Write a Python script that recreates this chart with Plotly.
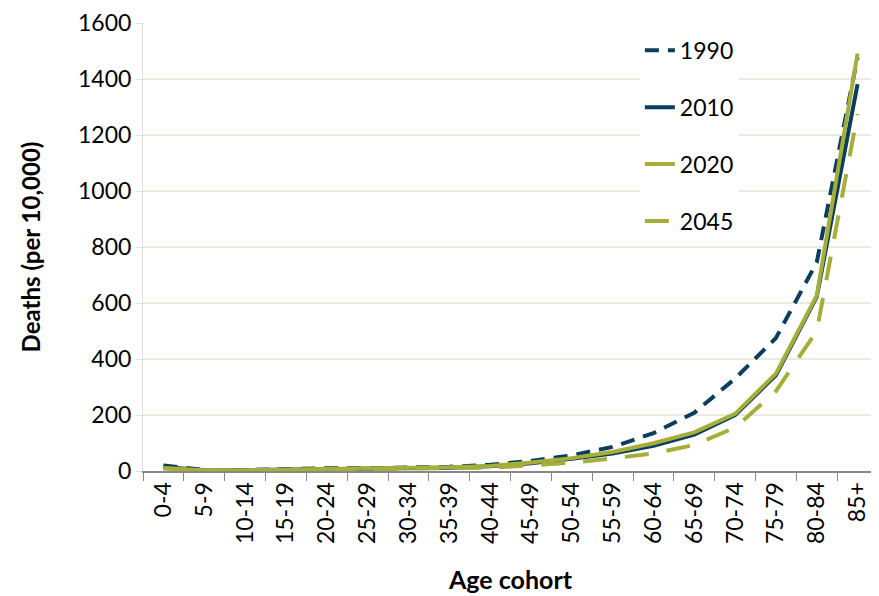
import plotly.graph_objects as go

ages = ["0-4", "5-9", "10-14", "15-19", "20-24", "25-29", "30-34", "35-39", "40-44",
        "45-49", "50-54", "55-59", "60-64", "65-69", "70-74", "75-79", "80-84", "85+"]

deaths_1990 = [20, 4, 4, 8, 10, 10, 12, 15, 22, 36, 56, 86, 135, 208, 330, 475, 745, 1478]
deaths_2010 = [14, 3, 3, 5, 7, 8, 9, 12, 17, 28, 44, 62, 90, 130, 200, 342, 622, 1382]
deaths_2020 = [11, 3, 3, 5, 7, 8, 10, 13, 18, 30, 46, 68, 99, 138, 204, 348, 626, 1491]
deaths_2045 = [9, 2, 2, 4, 5, 6, 7, 9, 12, 20, 30, 45, 63, 93, 155, 285, 500, 1275]

blue = "#0B3D5E"
green = "#A4AE38"

fig = go.Figure()
series = [
    ("1990", deaths_1990, blue, "14px,9px"),
    ("2010", deaths_2010, blue, "solid"),
    ("2020", deaths_2020, green, "solid"),
    ("2045", deaths_2045, green, "24px,18px"),
]
for name, vals, col, dash in series:
    fig.add_trace(go.Scatter(x=ages, y=vals, name=name, mode="lines", legendgroup=name,
                             line=dict(color=col, width=4, dash=dash)))

# page body has an 8px margin, so the figure is drawn a bit smaller
fig.update_layout(
    width=871, height=588,
    margin=dict(l=135, r=1, t=15, b=125),
    plot_bgcolor="white", paper_bgcolor="white",
    font=dict(family="Lato, Open Sans, sans-serif", size=23, color="#000"),
    legend=dict(x=0.676, y=0.987, xanchor="left", yanchor="top", bgcolor="white",
                tracegroupgap=24, font=dict(size=23)),
    xaxis=dict(
        title=dict(text="<b>Age cohort</b>", standoff=28, font=dict(size=25)),
        automargin=False, range=[-0.5, 17.5],
        tickangle=-90, ticks="outside", tickson="boundaries", ticklen=8,
        tickcolor="#888", showline=True, linecolor="#888", linewidth=2,
        showgrid=False,
    ),
    yaxis=dict(
        title=dict(text="<b>Deaths (per 10,000)</b>", standoff=30, font=dict(size=24)),
        automargin=False,
        range=[0, 1600], dtick=200, showgrid=True, gridcolor="#ECE9DF", gridwidth=2,
        showline=True, linecolor="#DDD", zeroline=False, ticks="outside",
        ticklen=6, tickcolor="#DDD",
    ),
)

fig.write_html("out.html")
